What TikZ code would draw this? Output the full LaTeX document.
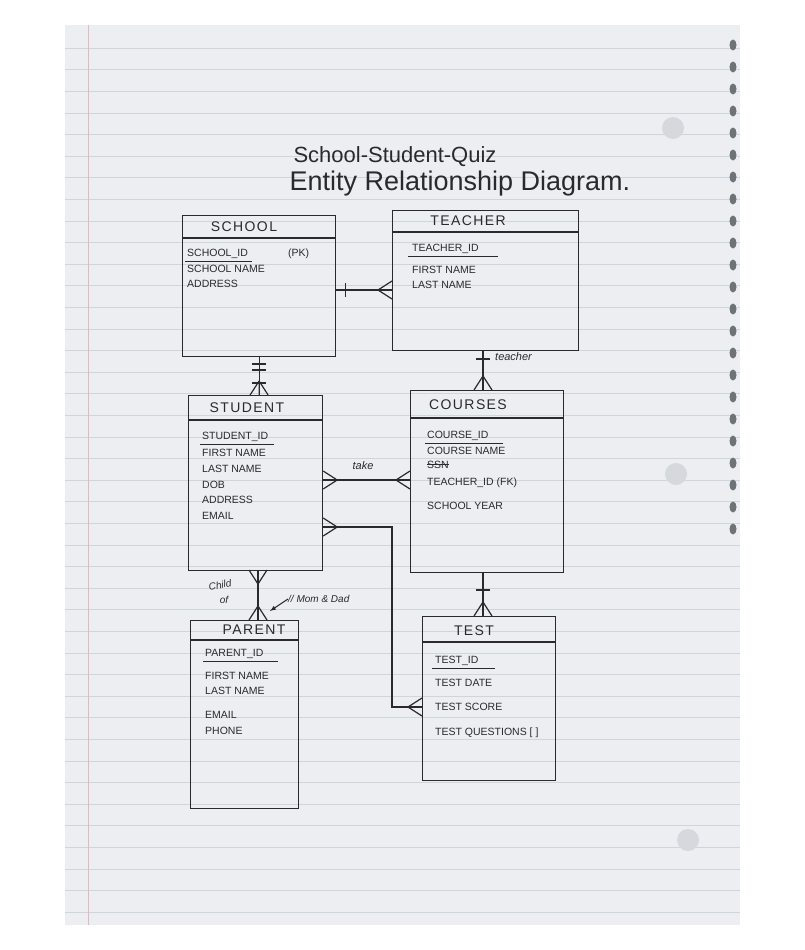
\documentclass[tikz,border=0pt]{standalone}
\usepackage{fontspec}
\setmainfont{Liberation Sans}
\usetikzlibrary{calc}
\definecolor{paper}{HTML}{ECEEF1}
\definecolor{rule}{HTML}{CDD5DE}
\definecolor{margin}{HTML}{E7B7C0}
\definecolor{ink}{HTML}{2A2A2E}
\definecolor{hole}{HTML}{D5D8DC}
\definecolor{coil}{HTML}{6E7378}
\tikzset{
  ent/.style={draw=ink, line width=1.2pt, rectangle, inner sep=0pt},
  hdr/.style={font=\fontsize{14}{15}\selectfont\addfontfeature{LetterSpace=10}, text=ink, inner sep=0pt},
  attr/.style={anchor=base west, font=\fontsize{10.5}{11}\selectfont, text=ink, inner sep=0pt},
  lbl/.style={font=\fontsize{11}{12}\selectfont\itshape, text=ink, inner sep=0pt},
  conn/.style={draw=ink, line width=1.2pt},
  crowfoot/.pic={\draw[ink, line width=1.2pt] (-14,0) -- (0,-9) (-14,0) -- (0,0) (-14,0) -- (0,9);}
}
\begin{document}
\begin{tikzpicture}[x=1pt,y=-1pt]
\useasboundingbox (0,0) rectangle (804,950);
\fill[white] (0,0) rectangle (804,950);
% paper
\fill[paper] (65,25) rectangle (740,925);
\foreach \yy in {48,69.6,...,920} {\draw[rule, line width=0.6pt] (65,\yy) -- (740,\yy);}
\draw[margin, line width=0.8pt] (88,25) -- (88,925);
\foreach \yy in {45,67,...,535} {\fill[coil] (733,\yy) ellipse (3.5 and 5.5);}
\fill[hole] (673,128) circle (11);
\fill[hole] (676,474) circle (11);
\fill[hole] (688,840) circle (11);

% title
\node[text=ink, font=\fontsize{22}{24}\selectfont] (t1) at (395,157) {School-Student-Quiz};
\node[text=ink, font=\fontsize{27}{29}\selectfont, anchor=base west] (t2) at (286,190) {Entity Relationship Diagram.};

% entity boxes
\node[ent, minimum width=153pt, minimum height=141pt, anchor=north west] (school) at (182,215) {};
\node[ent, minimum width=186pt, minimum height=140pt, anchor=north west] (teacher) at (392,210) {};
\node[ent, minimum width=134pt, minimum height=175pt, anchor=north west] (student) at (188,395) {};
\node[ent, minimum width=153pt, minimum height=182pt, anchor=north west] (courses) at (410,390) {};
\node[ent, minimum width=108pt, minimum height=188pt, anchor=north west] (parent) at (190,620) {};
\node[ent, minimum width=133pt, minimum height=164pt, anchor=north west] (test) at (422,616) {};

% header lines
\draw[conn] (school.north west |- 0,238) -- (school.north east |- 0,238);
\draw[conn] (teacher.north west |- 0,232) -- (teacher.north east |- 0,232);
\draw[conn] (student.north west |- 0,420) -- (student.north east |- 0,420);
\draw[conn] (courses.north west |- 0,418) -- (courses.north east |- 0,418);
\draw[conn] (parent.north west |- 0,640) -- (parent.north east |- 0,640);
\draw[conn] (test.north west |- 0,642) -- (test.north east |- 0,642);

% headers
\node[hdr] (schoolh) at (244,227) {SCHOOL};
\node[hdr] (teacherh) at (468,221) {TEACHER};
\node[hdr] (studenth) at (247,408) {STUDENT};
\node[hdr] (coursesh) at (468,405) {COURSES};
\node[hdr] (parenth) at (254,630) {PARENT};
\node[hdr] (testh) at (474,631) {TEST};

% attributes
\node[attr] (s1) at (187,256) {SCHOOL\_ID};
\node[attr] (s1b) at (288,256) {(PK)};
\node[attr] (s2) at (187,272) {SCHOOL NAME};
\node[attr] (s3) at (187,287) {ADDRESS};
\draw[conn, line width=1pt] (185,261) -- (252,261);

\node[attr] (te1) at (412,251) {TEACHER\_ID};
\node[attr] (te2) at (412,273) {FIRST NAME};
\node[attr] (te3) at (412,288) {LAST NAME};
\draw[conn, line width=1pt] (408,256) -- (498,256);

\node[attr] (st1) at (202,439) {STUDENT\_ID};
\node[attr] (st2) at (202,456) {FIRST NAME};
\node[attr] (st3) at (202,472) {LAST NAME};
\node[attr] (st4) at (202,488) {DOB};
\node[attr] (st5) at (202,503) {ADDRESS};
\node[attr] (st6) at (202,519) {EMAIL};
\draw[conn, line width=1pt] (200,444) -- (274,444);

\node[attr] (c1) at (427,438) {COURSE\_ID};
\node[attr] (c2) at (427,454) {COURSE NAME};
\node[attr] (c3) at (427,468) {SSN};
\draw[conn, line width=1.4pt] (c3.west) -- (c3.east);
\node[attr] (c4) at (427,485) {TEACHER\_ID (FK)};
\node[attr] (c5) at (427,509) {SCHOOL YEAR};
\draw[conn, line width=1pt] (425,443) -- (503,443);

\node[attr] (p1) at (205,656) {PARENT\_ID};
\node[attr] (p2) at (205,679) {FIRST NAME};
\node[attr] (p3) at (205,694) {LAST NAME};
\node[attr] (p4) at (205,718) {EMAIL};
\node[attr] (p5) at (205,734) {PHONE};
\draw[conn, line width=1pt] (203,661) -- (278,661);

\node[attr] (ts1) at (435,663) {TEST\_ID};
\node[attr] (ts2) at (435,686) {TEST DATE};
\node[attr] (ts3) at (435,710) {TEST SCORE};
\node[attr] (ts4) at (435,735) {TEST QUESTIONS [ ]};
\draw[conn, line width=1pt] (432,668) -- (495,668);

% connectors
% school - teacher
\coordinate (a1) at (school.east |- 0,290);
\coordinate (a2) at (teacher.west |- 0,290);
\draw[conn] (a1) -- (a2);
\draw[conn] ($(a1)+(9,-7)$) -- ($(a1)+(9,7)$);
\pic at (a2) {crowfoot};

% school - student
\coordinate (b1) at (school.south |- 0,356);
\coordinate (b2) at (b1 |- student.north);
\draw[conn] (b1) -- (b2);
\draw[conn] ($(b1)+(-7,8)$) -- ($(b1)+(7,8)$);
\draw[conn] ($(b1)+(-7,14)$) -- ($(b1)+(7,14)$);
\draw[conn] ($(b2)+(-7,-12)$) -- ($(b2)+(7,-12)$);
\pic[rotate=-90] at (b2) {crowfoot};

% teacher - courses
\coordinate (c1a) at (483,350);
\coordinate (c2a) at (c1a |- courses.north);
\draw[conn] (c1a) -- (c2a);
\draw[conn] ($(c1a)+(-7,9)$) -- ($(c1a)+(7,9)$);
\pic[rotate=-90] at (c2a) {crowfoot};
\node[lbl, anchor=west] (teachlbl) at (495,357) {teacher};

% student - courses (take)
\coordinate (d1) at (student.east |- 0,480);
\coordinate (d2) at (courses.west |- 0,480);
\draw[conn] (d1) -- (d2);
\pic[rotate=180] at (d1) {crowfoot};
\pic at (d2) {crowfoot};
\node[lbl] (takelbl) at (363,466) {take};

% student - test
\coordinate (e1) at (student.east |- 0,527);
\coordinate (e2) at (392,527);
\coordinate (e3) at (392,707);
\coordinate (e4) at (test.west |- 0,707);
\draw[conn] (e1) -- (e2) -- (e3) -- (e4);
\pic[rotate=180] at (e1) {crowfoot};
\pic at (e4) {crowfoot};

% courses - test
\coordinate (f1) at (483,572);
\coordinate (f2) at (f1 |- test.north);
\draw[conn] (f1) -- (f2);
\draw[conn] ($(f1)+(-7,18)$) -- ($(f1)+(7,18)$);
\pic[rotate=-90] at (f2) {crowfoot};

% student - parent
\coordinate (g1) at (258,570);
\coordinate (g2) at (g1 |- parent.north);
\draw[conn] (g1) -- (g2);
\pic[rotate=90] at (g1) {crowfoot};
\pic[rotate=-90] at (g2) {crowfoot};
\node[lbl, rotate=10, font=\fontsize{10}{10}\selectfont\itshape] (childlbl) at (220,585) {Child};
\node[lbl, font=\fontsize{10}{10}\selectfont\itshape] (oflbl) at (224,600) {of};
\node[lbl, anchor=west, font=\fontsize{10}{11}\selectfont\itshape] (momlbl) at (288,599) {// Mom \& Dad};
\draw[conn, line width=1pt, -latex] (momlbl.west) -- (270,611);
\end{tikzpicture}
\end{document}
